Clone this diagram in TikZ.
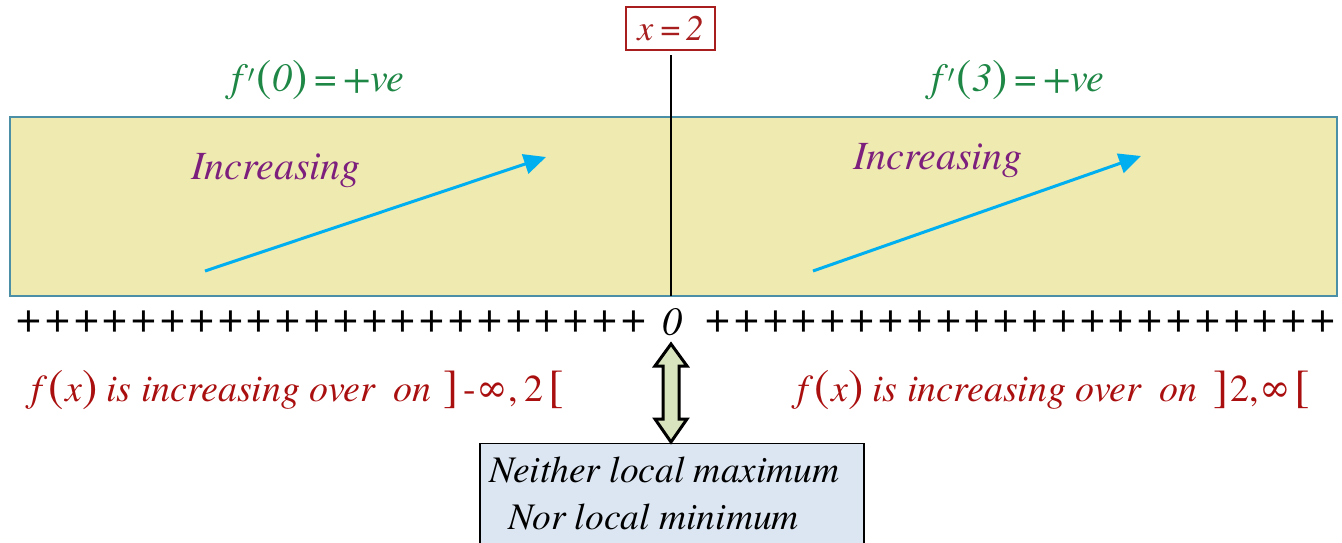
\documentclass[tikz,border=0pt]{standalone}
\usepackage{fontspec}
\setmainfont{texgyretermes}[Extension=.otf, UprightFont=*-regular, ItalicFont=*-italic, BoldFont=*-bold, BoldItalicFont=*-bolditalic]
\usetikzlibrary{arrows.meta}
\definecolor{bandfill}{HTML}{EEEAB0}
\definecolor{bandline}{HTML}{4A8FA6}
\definecolor{gtext}{HTML}{1E8746}
\definecolor{ptext}{HTML}{7D1F7D}
\definecolor{rtext}{HTML}{AA0F0F}
\definecolor{xcol}{HTML}{A81E1E}
\definecolor{acyan}{HTML}{00AFF0}
\definecolor{dafill}{HTML}{D7E4BE}
\definecolor{boxfill}{HTML}{DCE6F2}
\newcommand{\fs}[1]{\fontsize{#1}{#1}\selectfont}
\newcommand{\bigup}[1]{{\upshape\fs{46}#1}}
\tikzset{
  plussign/.style={inner sep=0pt, font=\fs{44}},
  incr/.style={text=ptext, inner sep=0pt, font=\fs{40}\itshape},
  deriv/.style={text=gtext, inner sep=0pt, font=\fs{40}\itshape},
  concl/.style={text=rtext, inner sep=0pt, anchor=west, font=\fs{38}\itshape},
  boxtext/.style={inner sep=0pt, anchor=west, font=\fs{37.5}\itshape},
  cyanarrow/.style={acyan, line width=3pt, -{Triangle[length=22pt,width=20pt]}},
}
\begin{document}
\begin{tikzpicture}[x=1pt,y=-1pt]
\useasboundingbox (0,0) rectangle (1342,542);
% band
\node[draw=bandline, fill=bandfill, line width=2.4pt, minimum width=1327pt, minimum height=179pt, inner sep=0pt] (band) at (673.5,206.5) {};
% x = 2 box
\node[draw=xcol, line width=1.3pt, text=xcol, minimum width=89pt, minimum height=43pt, inner sep=0pt, font=\fs{36}\itshape] (xeq) at (670.5,28.5) {x\hspace{7pt}{\upshape=}\hspace{5pt}2};
\coordinate (vtop) at (671,55);
\coordinate (vbot) at (671,296);
\draw[line width=1.5pt] (vtop) -- (vbot);
% derivatives
\node[deriv] (d0) at (318,80) {f\hspace{5pt}{\upshape\fs{42}$'$}\kern2pt\bigup{(}0\bigup{)}\hspace{7pt}{\upshape =}\hspace{6pt}+ve};
\node[deriv] (d3) at (1018,80) {f\hspace{5pt}{\upshape\fs{42}$'$}\kern2pt\bigup{(}3\bigup{)}\hspace{7pt}{\upshape =}\hspace{6pt}+ve};
% increasing labels
\node[incr] (inc1) at (276,171) {Increasing};
\node[incr] (inc2) at (938,161) {Increasing};
\coordinate (a1s) at (205,271);
\coordinate (a1e) at (546,157);
\coordinate (a2s) at (813,271);
\coordinate (a2e) at (1141,156);
\draw[cyanarrow] (a1s) -- (a1e);
\draw[cyanarrow] (a2s) -- (a2e);
% sign line
\foreach \i in {0,...,21} {
  \node[plussign] (pl\i) at ({29+\i*28.8},322) {+};
  \node[plussign] (pr\i) at ({718+\i*28.8},322) {+};
}
\node[inner sep=0pt, font=\fs{40}\itshape] (zero) at (672,322) {0};
% conclusions
\node[concl] (cl) at (31,390) {f\hspace{7pt}\bigup{(}\hspace{1pt}x\hspace{1pt}\bigup{)}\hspace{8pt}is increasing over\hspace{18pt}on\hspace{12pt}\bigup{]}\hspace{5pt}{\upshape -∞,\hspace{7pt}2}\hspace{5pt}\bigup{[}};
\node[concl] (cr) at (797,390) {f\hspace{7pt}\bigup{(}\hspace{1pt}x\hspace{1pt}\bigup{)}\hspace{8pt}is increasing over\hspace{18pt}on\hspace{16pt}\bigup{]}\hspace{2pt}{\upshape 2,∞}\hspace{3pt}\bigup{[}};
% bottom box
\node[draw=black, fill=boxfill, line width=1.2pt, minimum width=384pt, minimum height=130pt, inner sep=0pt, anchor=north] (nbox) at (672,443) {};
\node[boxtext] (l1) at (489,470) {Neither local maximum};
\node[boxtext] (l2) at (508,517) {Nor local minimum};
% double arrow
\draw[line width=3pt, fill=dafill, line join=miter] (671,344) -- (687,366) -- (679,366) -- (679,419) -- (687,419) -- (671,442) -- (655,419) -- (663,419) -- (663,366) -- (655,366) -- cycle;
\end{tikzpicture}
\end{document}
